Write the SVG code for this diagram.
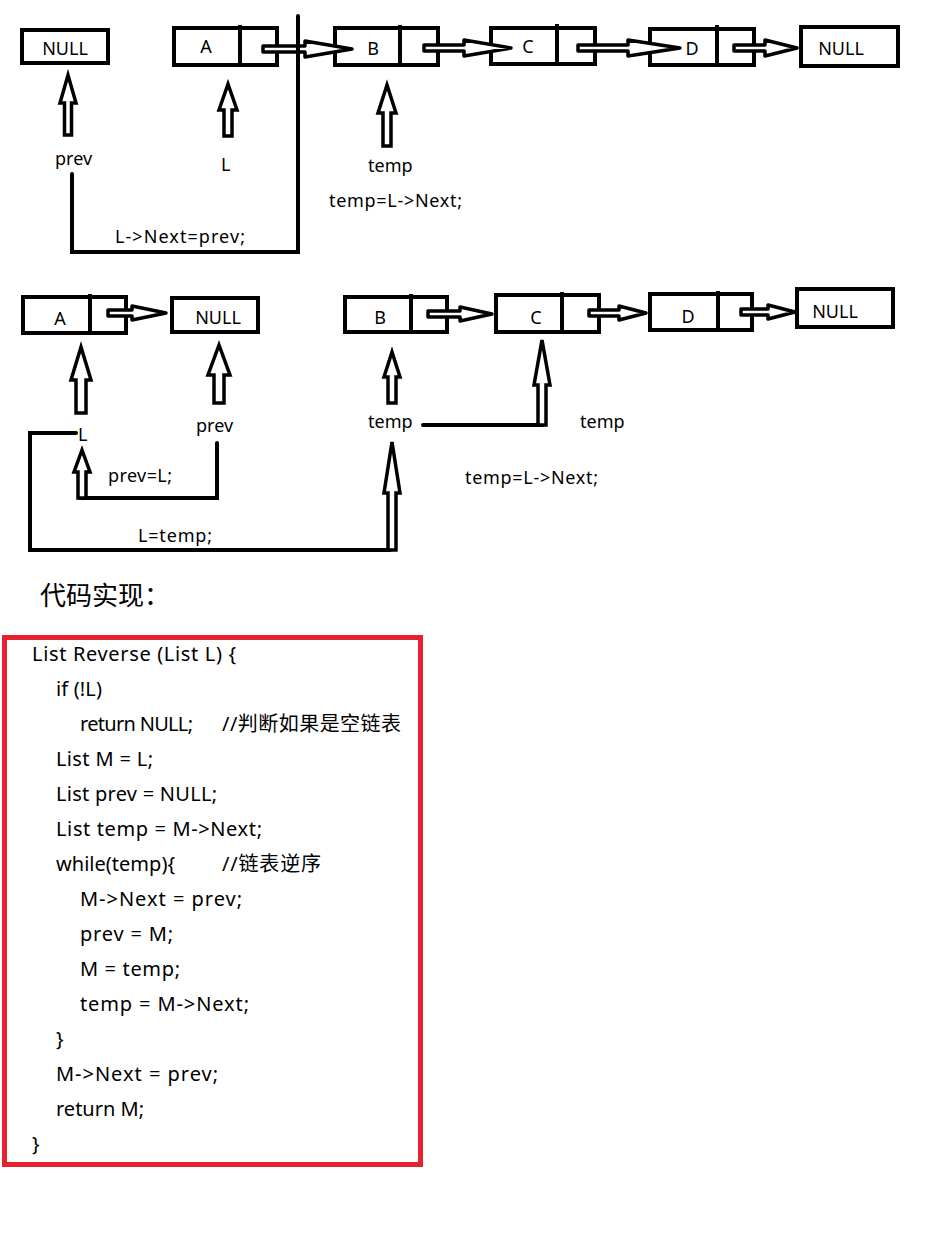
<svg xmlns="http://www.w3.org/2000/svg" width="927" height="1257" viewBox="0 0 927 1257">
<style>
  .box { fill: #fff; stroke: #000; stroke-width: 4; }
  .div { stroke: #000; stroke-width: 4; }
  .harr { fill: #fff; stroke: #000; stroke-width: 3.5; stroke-linejoin: round; }
  .varr { fill: #fff; stroke: #000; stroke-width: 3.5; stroke-linejoin: miter; }
  .line { fill: none; stroke: #000; stroke-width: 4; stroke-linecap: round; stroke-linejoin: miter; }
  .bt { font-family: "Noto Sans", "Noto Sans CJK SC", sans-serif; font-size: 18px; fill: #000; text-anchor: middle; }
  .lb { font-family: "Noto Sans", "Noto Sans CJK SC", sans-serif; font-size: 18px; fill: #000; }
  .code { font-family: "Noto Sans", "Noto Sans CJK SC", sans-serif; font-size: 20px; fill: #000; }
  .title { font-family: "Noto Sans CJK SC", sans-serif; font-size: 26px; fill: #000; }
</style>
<rect width="927" height="1257" fill="#fff"/>

<!-- Row 1 nodes -->
<g id="r1-null-left">
  <rect class="box" x="22" y="30" width="86" height="33"/>
  <text class="bt" x="65" y="55">NULL</text>
</g>
<g id="r1-node-a">
  <rect class="box" x="174" y="28" width="103" height="37"/>
  <line class="div" x1="240" y1="25" x2="240" y2="65"/>
  <text class="bt" x="206" y="53">A</text>
</g>
<g id="r1-node-b">
  <rect class="box" x="335" y="28" width="103" height="37"/>
  <line class="div" x1="400" y1="25" x2="400" y2="65"/>
  <text class="bt" x="373" y="55">B</text>
</g>
<g id="r1-node-c">
  <rect class="box" x="491" y="28" width="104" height="36"/>
  <line class="div" x1="557" y1="24" x2="557" y2="64"/>
  <text class="bt" x="528" y="53">C</text>
</g>
<g id="r1-node-d">
  <rect class="box" x="650" y="29" width="104" height="36"/>
  <line class="div" x1="717" y1="25" x2="717" y2="65"/>
  <text class="bt" x="692" y="55">D</text>
</g>
<g id="r1-null-right">
  <rect class="box" x="801" y="27" width="97" height="39"/>
  <text class="bt" x="841" y="55">NULL</text>
</g>

<!-- Row 2 nodes -->
<g id="r2-node-a">
  <rect class="box" x="23" y="297" width="103" height="36"/>
  <line class="div" x1="90" y1="294" x2="90" y2="333"/>
  <text class="bt" x="60" y="325">A</text>
</g>
<g id="r2-null-left">
  <rect class="box" x="172" y="298" width="86" height="34"/>
  <text class="bt" x="218" y="324">NULL</text>
</g>
<g id="r2-node-b">
  <rect class="box" x="345" y="297" width="102" height="35"/>
  <line class="div" x1="411" y1="294" x2="411" y2="332"/>
  <text class="bt" x="380" y="324">B</text>
</g>
<g id="r2-node-c">
  <rect class="box" x="496" y="295" width="103" height="37"/>
  <line class="div" x1="562" y1="292" x2="562" y2="332"/>
  <text class="bt" x="536" y="324">C</text>
</g>
<g id="r2-node-d">
  <rect class="box" x="650" y="294" width="102" height="36"/>
  <line class="div" x1="718" y1="291" x2="718" y2="330"/>
  <text class="bt" x="688" y="323">D</text>
</g>
<g id="r2-null-right">
  <rect class="box" x="797" y="289" width="96" height="38"/>
  <text class="bt" x="835" y="318">NULL</text>
</g>

<!-- Connectors -->
<g id="connectors">
  <!-- row 1 next arrows -->
  <path class="harr" d="M263,46 L305,46 L305,41 L352,49 L305,57 L305,52 L263,52 Z"/>
  <path class="harr" d="M424,45 L464,45 L464,40 L511,48 L464,56 L464,51 L424,51 Z"/>
  <path class="harr" d="M578,45 L628,45 L628,40 L680,48 L628,56 L628,51 L578,51 Z"/>
  <path class="harr" d="M734,45 L765,45 L765,40 L797,48 L765,56 L765,51 L734,51 Z"/>
  <!-- row 1 pointers -->
  <path class="varr" d="M64.5,135 L64.5,103 L60,103 L68,75 L76,103 L71.5,103 L71.5,135 Z"/>
  <path class="varr" d="M224,136 L224,110 L219,110 L228,84 L237,110 L232,110 L232,136 Z"/>
  <path class="varr" d="M383,146 L383,113 L378,113 L387,85 L396,113 L391,113 L391,146 Z"/>
  <!-- row 1 L->Next=prev line -->
  <polyline class="line" points="72,174 72,252 298,252 298,16"/>

  <!-- row 2 next arrows -->
  <path class="harr" d="M108,310 L132,310 L132,306 L166,313 L132,320 L132,316 L108,316 Z"/>
  <path class="harr" d="M428,311 L460,311 L460,307 L492,314 L460,321 L460,317 L428,317 Z"/>
  <path class="harr" d="M589,310 L619,310 L619,306 L646,313 L619,320 L619,316 L589,316 Z"/>
  <path class="harr" d="M741,309 L768,309 L768,305 L795,312 L768,319 L768,315 L741,315 Z"/>
  <!-- row 2 pointers -->
  <path class="varr" d="M76,413 L76,380 L71,380 L81,347 L91,380 L86,380 L86,413 Z"/>
  <path class="varr" d="M214,403 L214,375 L208,375 L219,345 L230,375 L224,375 L224,403 Z"/>
  <path class="varr" d="M388,403 L388,377 L384,377 L392,352 L400,377 L396,377 L396,403 Z"/>
  <!-- temp = L->Next -->
  <polyline class="line" points="423,425 542,425"/>
  <path class="varr" d="M538,425 L538,385 L534,385 L542,340 L550,385 L546,385 L546,425 Z"/>
  <!-- prev = L -->
  <polyline class="line" points="217,443 217,498 80,498"/>
  <path class="varr" d="M78,498 L78,472 L74,472 L82,450 L90,472 L86,472 L86,498 Z"/>
  <!-- L = temp -->
  <polyline class="line" points="76,433 30,433 30,550 390,550"/>
  <path class="varr" d="M388,550 L388,493 L384,493 L392,442 L400,493 L396,493 L396,550 Z"/>
</g>

<!-- Labels -->
<g id="labels">
  <text class="lb" x="55" y="165">prev</text>
  <text class="lb" x="221" y="171">L</text>
  <text class="lb" x="368" y="172">temp</text>
  <text class="lb" x="329" y="207" textLength="133" lengthAdjust="spacing">temp=L-&gt;Next;</text>
  <text class="lb" x="115" y="243" textLength="130" lengthAdjust="spacing">L-&gt;Next=prev;</text>

  <text class="lb" x="78" y="441">L</text>
  <text class="lb" x="196" y="432">prev</text>
  <text class="lb" x="368" y="428">temp</text>
  <text class="lb" x="580" y="428">temp</text>
  <text class="lb" x="108" y="482" textLength="64" lengthAdjust="spacing">prev=L;</text>
  <text class="lb" x="138" y="542" textLength="74" lengthAdjust="spacing">L=temp;</text>
  <text class="lb" x="465" y="484" textLength="133" lengthAdjust="spacing">temp=L-&gt;Next;</text>
</g>

<!-- Code section -->
<g id="code-title">
  <text class="title" x="40" y="605">代码实现：</text>
</g>
<g id="code-block">
  <rect x="4.5" y="637.5" width="416" height="527" fill="none" stroke="#e5222f" stroke-width="5"/>
  <text class="code" x="32" y="661" textLength="204" lengthAdjust="spacing">List Reverse (List L) {</text>
  <text class="code" x="56" y="696" textLength="46" lengthAdjust="spacing">if (!L)</text>
  <text class="code" x="80" y="731" textLength="113" lengthAdjust="spacing">return NULL;</text>
  <text class="code" x="222" y="731" textLength="179" lengthAdjust="spacing">//判断如果是空链表</text>
  <text class="code" x="56" y="766" textLength="97" lengthAdjust="spacing">List M = L;</text>
  <text class="code" x="56" y="801" textLength="161" lengthAdjust="spacing">List prev = NULL;</text>
  <text class="code" x="56" y="836" textLength="206" lengthAdjust="spacing">List temp = M-&gt;Next;</text>
  <text class="code" x="56" y="871" textLength="119" lengthAdjust="spacing">while(temp){</text>
  <text class="code" x="222" y="871" textLength="99" lengthAdjust="spacing">//链表逆序</text>
  <text class="code" x="80" y="906" textLength="162" lengthAdjust="spacing">M-&gt;Next = prev;</text>
  <text class="code" x="80" y="941" textLength="93" lengthAdjust="spacing">prev = M;</text>
  <text class="code" x="80" y="976" textLength="100" lengthAdjust="spacing">M = temp;</text>
  <text class="code" x="80" y="1011" textLength="169" lengthAdjust="spacing">temp = M-&gt;Next;</text>
  <text class="code" x="56" y="1046">}</text>
  <text class="code" x="56" y="1081" textLength="162" lengthAdjust="spacing">M-&gt;Next = prev;</text>
  <text class="code" x="56" y="1116" textLength="88" lengthAdjust="spacing">return M;</text>
  <text class="code" x="32" y="1151">}</text>
</g>
</svg>
